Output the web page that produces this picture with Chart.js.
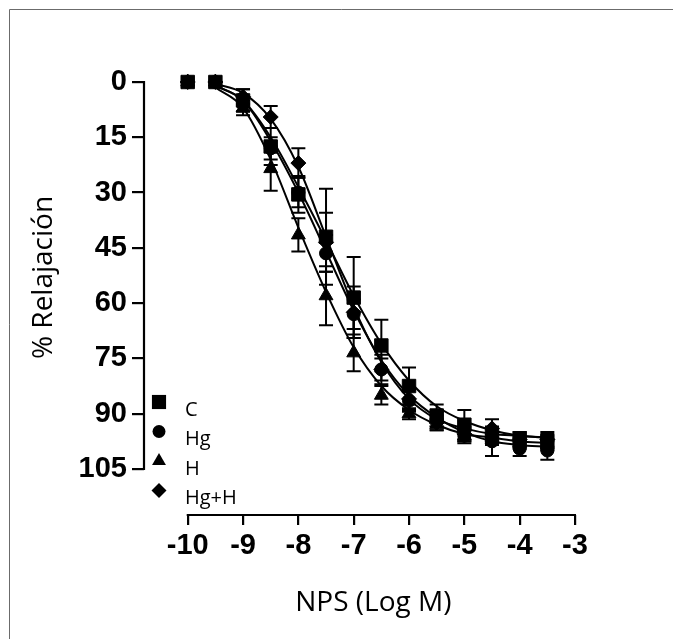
<!DOCTYPE html>
<html>
<head>
<meta charset="utf-8">
<script src="https://cdn.jsdelivr.net/npm/chart.js@4.4.0/dist/chart.umd.min.js"></script>
<style>
	html, body { margin: 0; padding: 0; background: #fff; }
	#wrap { width: 673px; height: 639px; }
</style>
</head>
<body>
<div id="wrap"><canvas id="chart" width="673" height="639"></canvas></div>
<script>
// NPS dose (log M) and % relaxation, mean and SEM per group
const logDose = [-10, -9.5, -9, -8.5, -8, -7.5, -7, -6.5, -6, -5.5, -5, -4.5, -4, -3.5];
const groupNames = ['C', 'Hg', 'H', 'Hg+H'];

const relaxC = [0, 0, 5, 17.5, 30.5, 42, 58.5, 71.5, 82.5, 90.5, 93, 96, 97, 97.5];
const relaxHg = [0, 0, 6, 18, 30, 46.5, 63, 78, 86.5, 91.5, 96, 97.5, 99.5, 100];
const relaxH = [0, 0, 7, 23.5, 41.5, 58, 73.5, 85, 90, 93, 96, 97, 98, 98.5];
const relaxHgH = [0, 0, 4, 9.5, 22, 43.5, 62.5, 78, 86, 92.5, 95.5, 94, 97, 97];

const semC = [0, 0, 3, 5, 5, 13, 11, 7, 5, 3, 4, 2, 2, 2];
const semHg = [0, 0, 2, 3, 4, 5, 4, 3, 3, 2, 2, 4, 2, 2.5];
const semH = [0, 0, 2, 6, 4.5, 8, 5, 2.5, 1.5, 1.5, 1.5, 1.5, 1.5, 1.5];
const semHgH = [0, 0, 2, 3, 4, 8, 7, 4, 3, 2, 2, 2.5, 2, 2];

// fitted curves (curve starts at -9.5)
const fitC = [null, 1, 5, 15, 28.5, 43, 58, 71, 81, 88, 92, 94.5, 96, 96.5];
const fitHg = [null, 1, 5, 16, 30, 46, 62, 75.5, 85, 91, 95, 97.5, 98.5, 99];
const fitH = [null, 1.5, 7, 21, 39.5, 57, 72, 82.5, 89, 93, 95.5, 96.5, 97.5, 98];
const fitHgH = [null, 0.5, 3, 10, 23, 42, 61, 76, 86, 91.5, 94, 95.5, 96, 96.5];

const xTicks = [-10, -9, -8, -7, -6, -5, -4, -3];
const yTicks = [0, 15, 30, 45, 60, 75, 90, 105];
const xTitle = 'NPS (Log M)';
const yTitle = '% Relajación';

const means = [relaxC, relaxHg, relaxH, relaxHgH];
const sems = [semC, semHg, semH, semHgH];
const fits = [fitC, fitHg, fitH, fitHgH];

const markers = [
	{ style: 'rect', radius: 9.5 },
	{ style: 'circle', radius: 6.5 },
	{ style: 'triangle', radius: 8 },
	{ style: 'rectRot', radius: 7.5 },
];

const toPoints = (ys) => logDose.map((x, i) => ({ x: x, y: ys[i] }));

const datasets = [];
groupNames.forEach((name, i) => {
	datasets.push({
		label: name,
		data: toPoints(means[i]),
		showLine: false,
		pointStyle: markers[i].style,
		pointRadius: markers[i].radius,
		pointBackgroundColor: '#000',
		pointBorderColor: '#000',
		pointBorderWidth: 1,
		clip: false,
		order: 0,
		errors: sems[i],
	});
});
groupNames.forEach((name, i) => {
	datasets.push({
		label: name + ' fit',
		data: toPoints(fits[i]),
		borderColor: '#000',
		borderWidth: 2,
		pointRadius: 0,
		cubicInterpolationMode: 'monotone',
		spanGaps: true,
		clip: false,
		order: 1,
	});
});

function drawMarker(ctx, style, x, y, r) {
	ctx.beginPath();
	if (style === 'rect') {
		const h = r * Math.SQRT1_2;
		ctx.rect(x - h, y - h, 2 * h, 2 * h);
	} else if (style === 'circle') {
		ctx.arc(x, y, r, 0, Math.PI * 2);
	} else if (style === 'triangle') {
		ctx.moveTo(x, y - r);
		ctx.lineTo(x + r * 0.866, y + r / 2);
		ctx.lineTo(x - r * 0.866, y + r / 2);
		ctx.closePath();
	} else {
		ctx.moveTo(x, y - r);
		ctx.lineTo(x + r, y);
		ctx.lineTo(x, y + r);
		ctx.lineTo(x - r, y);
		ctx.closePath();
	}
	ctx.fill();
}

const prismPlugin = {
	id: 'prism',
	beforeDraw(chart) {
		const ctx = chart.ctx;
		ctx.save();
		ctx.strokeStyle = '#6b6b6b';
		ctx.lineWidth = 1;
		ctx.beginPath();
		ctx.moveTo(9.5, chart.height);
		ctx.lineTo(9.5, 9.5);
		ctx.lineTo(chart.width, 9.5);
		ctx.stroke();
		ctx.restore();
	},
	afterDatasetsDraw(chart) {
		const ctx = chart.ctx;
		const yScale = chart.scales.y;
		ctx.save();
		ctx.strokeStyle = '#000';
		ctx.lineWidth = 2;
		chart.data.datasets.forEach((ds, di) => {
			if (!ds.errors) return;
			const meta = chart.getDatasetMeta(di);
			meta.data.forEach((pt, i) => {
				const err = ds.errors[i];
				if (!err) return;
				const v = ds.data[i].y;
				const y1 = yScale.getPixelForValue(v - err);
				const y2 = yScale.getPixelForValue(v + err);
				ctx.beginPath();
				ctx.moveTo(pt.x, y1);
				ctx.lineTo(pt.x, y2);
				ctx.moveTo(pt.x - 7, y1);
				ctx.lineTo(pt.x + 7, y1);
				ctx.moveTo(pt.x - 7, y2);
				ctx.lineTo(pt.x + 7, y2);
				ctx.stroke();
			});
		});
		ctx.restore();
	},
	afterDraw(chart) {
		const ctx = chart.ctx;
		const { x, y } = chart.scales;
		const yTop = y.getPixelForValue(yTicks[0]);
		const yBottom = y.getPixelForValue(yTicks[yTicks.length - 1]);
		const xLeft = x.getPixelForValue(xTicks[0]);
		const xRight = x.getPixelForValue(xTicks[xTicks.length - 1]);
		ctx.save();
		ctx.strokeStyle = '#000';
		ctx.lineWidth = 2.2;
		ctx.beginPath();
		ctx.moveTo(chart.chartArea.left, yTop - 1);
		ctx.lineTo(chart.chartArea.left, yBottom + 1);
		ctx.moveTo(xLeft - 1, chart.chartArea.bottom);
		ctx.lineTo(xRight + 1, chart.chartArea.bottom);
		ctx.stroke();

		// axis titles, centred on the drawn axis lines
		ctx.fillStyle = '#000';
		ctx.font = '28px "Open Sans"';
		ctx.textAlign = 'center';
		ctx.textBaseline = 'middle';
		ctx.fillText(xTitle, (xLeft + xRight) / 2 - 8, 603);
		ctx.save();
		ctx.translate(44, (yTop + yBottom) / 2 + 2);
		ctx.rotate(-Math.PI / 2);
		ctx.fillText(yTitle, 0, 0);
		ctx.restore();

		// legend inside the plot, bottom left
		ctx.font = '20px "Open Sans"';
		ctx.textAlign = 'left';
		ctx.textBaseline = 'alphabetic';
		groupNames.forEach((name, i) => {
			const my = 402 + i * 29.5;
			const r = markers[i].style === 'rect' ? 10 : markers[i].radius;
			drawMarker(ctx, markers[i].style, 159, my, r);
			ctx.fillText(name, 185, my + 13.5);
		});
		ctx.restore();
	},
};

const tickFont = { family: '"Liberation Sans", Arial, sans-serif', size: 29, weight: 'bold' };

new Chart(document.getElementById('chart'), {
	type: 'line',
	data: { datasets: datasets },
	options: {
		responsive: false,
		animation: false,
		devicePixelRatio: 1,
		layout: { padding: { top: 82, right: 98, left: 0, bottom: 0 } },
		plugins: { legend: { display: false }, tooltip: { enabled: false } },
		scales: {
			x: {
				type: 'linear',
				min: -10.79,
				max: -3,
				afterBuildTicks: (s) => { s.ticks = xTicks.map((v) => ({ value: v })); },
				afterFit: (s) => { s.height = 124; },
				border: { display: false },
				grid: { drawOnChartArea: false, drawTicks: true, tickLength: 10, color: '#000', lineWidth: 2.2 },
				ticks: { color: '#000', font: tickFont, padding: 4, maxRotation: 0, callback: (v) => String(v) },
			},
			y: {
				type: 'linear',
				reverse: true,
				min: 0,
				max: 117.5,
				afterBuildTicks: (s) => { s.ticks = yTicks.map((v) => ({ value: v })); },
				afterFit: (s) => { s.width = 144; },
				border: { display: false },
				grid: { drawOnChartArea: false, drawTicks: true, tickLength: 12, color: '#000', lineWidth: 2.2 },
				ticks: { color: '#000', font: tickFont, padding: 5, callback: (v) => String(v) },
			},
		},
	},
	plugins: [prismPlugin],
});
</script>
</body>
</html>
